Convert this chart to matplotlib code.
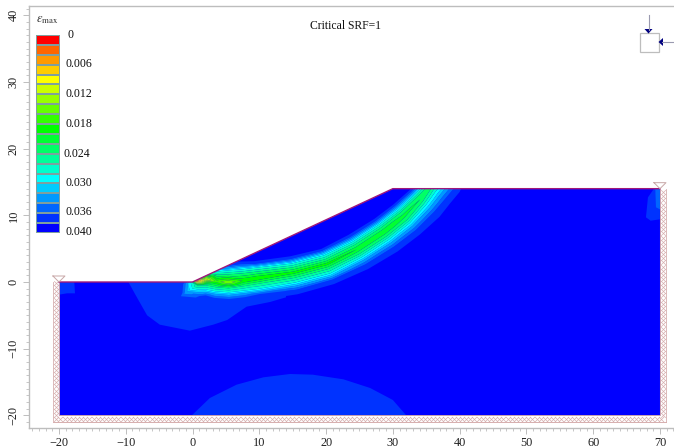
import numpy as np
import matplotlib
matplotlib.use("Agg")
import matplotlib.pyplot as plt
import matplotlib.tri as mtri
from matplotlib.colors import ListedColormap
from matplotlib.lines import Line2D
from matplotlib.patches import Polygon, Rectangle
from matplotlib.ticker import MultipleLocator

plt.rcParams['font.family'] = ['Liberation Serif', 'DejaVu Serif']
plt.rcParams['mathtext.fontset'] = 'stix'

W, H = 674, 446

colors = ['#0000FF', '#0033FF', '#0066FF', '#0099FF', '#00CCFF', '#00FFFF', '#00FFCC',
          '#00FF99', '#00FF66', '#00FF33', '#00FF00', '#33FF00', '#66FF00', '#99FF00',
          '#CCFF00', '#FFFF00', '#FFCC00', '#FF9900', '#FF6600', '#FF0000']
levels = np.linspace(0, 0.04, 21)
legend_ticks = ['0', '0.006', '0.012', '0.018', '0.024', '0.030', '0.036', '0.040']
legend_x = [68, 66, 65, 65, 64, 65, 66, 66]
legend_y = [35, 64, 94, 124, 154, 183, 212, 232]

domain_x = [-20, 70, 70, 30, 0, -20]
domain_y = [-20, -20, 14, 14, 0, 0]

# Strain band: stations along the shear band, peak strain, and the offsets of iso-strain lines
iso_values = [0.016, 0.012, 0.008, 0.004, 0.002]
station_x = [0.6, 2.0, 3.6, 5.4, 7.5, 9.6, 15.1, 20.1, 24.6, 28.6, 31.6, 34.1, 35.5, 37.0]
station_y = [0.15, 0.4, 0.1, -0.05, 0.2, 0.55, 1.4, 2.7, 4.9, 7.5, 9.9, 12.4, 14.2, 16.0]
station_peak = [0.036, 0.029, 0.023, 0.026, 0.022, 0.022, 0.021, 0.021, 0.020, 0.020, 0.019, 0.018, 0.017, 0.017]
offset_up = [[0.5, 0.8, 1.0, 1.4, 1.8], [0.9, 1.3, 1.6, 2.1, 2.5], [1.0, 1.5, 1.9, 2.3, 2.7],
             [1.2, 1.8, 2.1, 2.5, 2.9], [1.1, 1.7, 2.1, 2.5, 2.9], [1.0, 1.6, 1.9, 2.2, 2.6],
             [0.8, 1.4, 1.75, 2.1, 2.5], [0.75, 1.35, 1.75, 2.1, 2.4], [0.75, 1.3, 1.7, 2.1, 2.5],
             [0.75, 1.3, 1.65, 2.05, 2.4], [0.7, 1.2, 1.6, 2.0, 2.3], [0.6, 1.1, 1.4, 1.8, 2.1],
             [0.3, 0.9, 1.2, 1.6, 2.1], [0.3, 0.9, 1.2, 1.6, 2.1]]
offset_low = [[0.7, 1.3, 1.7, 2.3, 3.0], [0.9, 1.5, 1.9, 2.4, 3.2], [0.9, 1.5, 1.9, 2.5, 3.2],
              [0.9, 1.5, 1.9, 2.5, 3.2], [0.85, 1.5, 1.9, 2.5, 3.2], [0.85, 1.6, 2.0, 2.4, 3.3],
              [0.8, 1.5, 2.0, 2.6, 3.3], [0.8, 1.5, 2.0, 2.5, 3.2], [0.8, 1.4, 1.9, 2.6, 3.4],
              [0.8, 1.4, 1.95, 2.7, 3.6], [0.8, 1.4, 2.0, 2.8, 3.7], [0.5, 1.2, 1.9, 2.8, 3.9],
              [0.3, 1.1, 1.9, 2.9, 3.9], [0.3, 1.1, 1.9, 2.9, 3.9]]
# Toe end of the band: extra strain samples
toe_x = [-0.3, -0.7, -1.4, -2.5, -3.2, -1.5, -2.2, -0.8, -3.0]
toe_y = [0.0, -0.2, -0.3, -0.5, -0.5, -1.6, -2.5, -1.4, -3.2]
toe_strain = [0.012, 0.008, 0.004, 0.002, 0.0, 0.004, 0.002, 0.008, 0.0]
far_x = [-30, 80, 80, -30, 25, 45, 10]
far_y = [-30, -30, 30, 30, -12, 22, 12]

# Low strain regions (0.002 - 0.004)
toe_region = [(-9.6, 0), (-8.5, -2), (-6.8, -5), (-4.9, -6.4), (-0.4, -7.3), (3.1, -6.4), (5.2, -5.7),
              (8.1, -3.7), (11.6, -3), (14, -2.3), (14, 0), (0, 0)]
dome_region = [(-0.1, -20), (2.6, -17.4), (6.6, -15.4), (10.6, -14.3), (14.6, -13.8), (18, -13.9),
               (22.6, -14.6), (26.6, -15.9), (30, -17.7), (32, -20)]
left_blob = [(-20, 0), (-17.7, 0), (-17.6, -1.7), (-18.8, -1.7), (-20, -1.9)]
right_blob = [(69.1, 14), (68.2, 12.7), (67.9, 9.7), (68.6, 9.2), (70, 9.4), (70, 14)]
right_core = [(69.3, 14), (70, 14), (70, 10.9), (69.4, 11.2)]

xticks = [-20, -10, 0, 10, 20, 30, 40, 50, 60, 70]
yticks = [-20, -10, 0, 10, 20, 30, 40]

fig = plt.figure(figsize=(W / 100, H / 100), dpi=100)
L, R, T, B = 28.5, 674, 6, 428
ax = fig.add_axes([L / W, 1 - B / H, (R - L) / W, (B - T) / H])
ax.set_xlim(-24.56, 72.1)
ax.set_ylim(-21.9, 41.4)

# Domain
clip = Polygon(list(zip(domain_x, domain_y)), closed=True, fc=colors[0], ec='none', zorder=1)
ax.add_patch(clip)
for poly, c in [(toe_region, colors[1]), (dome_region, colors[1]), (left_blob, colors[1]),
                (right_blob, colors[1]), (right_core, colors[2])]:
    p = Polygon(poly, closed=True, fc=c, ec='none', zorder=2)
    ax.add_patch(p)
    p.set_clip_path(clip)

# Band samples
sx, sy = np.array(station_x), np.array(station_y)
tx, ty = np.gradient(sx), np.gradient(sy)
n = np.hypot(tx, ty)
nx, ny = -ty / n, tx / n
px, py, pz = list(toe_x) + list(far_x), list(toe_y) + list(far_y), list(toe_strain) + [0.0] * len(far_x)
for i in range(len(sx)):
    px.append(sx[i]); py.append(sy[i]); pz.append(station_peak[i])
    for sign, offs in ((1, offset_up[i]), (-1, offset_low[i])):
        for d, v in zip(offs + [offs[-1] + 0.8], iso_values + [0.0]):
            px.append(sx[i] + sign * d * nx[i])
            py.append(sy[i] + sign * d * ny[i])
            pz.append(v)
tri = mtri.Triangulation(px, py)
cs = ax.tricontourf(tri, pz, levels=levels[1:], colors=colors[1:], zorder=3, antialiased=True)
cs.set_clip_path(clip)

# Boundary supports
hatch = '#d6aeae'
ax.scatter(np.arange(-20.4, 70.6, 0.62), np.full(147, -20.5), marker='x', s=13, lw=0.5, c=hatch, zorder=4)
yl = np.arange(-20, 0, 0.62)
ax.scatter(np.full(yl.size, -20.45), yl, marker='x', s=11, lw=0.5, c=hatch, zorder=4)
yr = np.arange(-20, 14, 0.62)
ax.scatter(np.full(yr.size, 70.45), yr, marker='x', s=11, lw=0.5, c=hatch, zorder=4)
ax.plot([-20.9, -20.9], [-20.8, 0], color=hatch, lw=0.6, zorder=4)
ax.plot([70.9, 70.9], [-21, 14], color=hatch, lw=0.6, zorder=4)
ax.plot([-20.9, 70.9], [-21.05, -21.05], color=hatch, lw=0.7, zorder=4)
ax.plot([-20, -20, 70, 70], [0, -20, -20, 14], color='#c8a0b0', lw=0.7, zorder=5)
ax.plot([-20, 0, 30, 70], [0, 0, 14, 14], color='#a0187a', lw=1.0, zorder=5)
# Water table triangles
ax.plot([-20.9, -19.1, -20, -20.9], [0.9, 0.9, 0, 0.9], color='#c8a8a8', lw=0.7, zorder=5)
ax.plot([69.1, 70.9, 70, 69.1], [14.9, 14.9, 14, 14.9], color='#c8a8a8', lw=0.7, zorder=5)

# Axes
gray = '#bdbdbd'
for s in ('left', 'bottom', 'top'):
    ax.spines[s].set_color(gray)
    ax.spines[s].set_linewidth(1.0)
ax.spines['right'].set_visible(False)
ax.set_xticks(xticks)
ax.set_yticks(yticks)
ax.xaxis.set_minor_locator(MultipleLocator(1))
ax.yaxis.set_minor_locator(MultipleLocator(1))
ax.tick_params(which='major', length=4, width=0.7, color=gray, labelsize=8.8, pad=2.5, labelcolor='#202020')
ax.tick_params(which='minor', length=2, width=0.6, color=gray)
for lab in ax.get_yticklabels():
    lab.set_rotation(90)
    lab.set_va('center')

def fx(x):
    return x / W

def fy(y):
    return 1 - y / H

# Legend
lx0, lx1, ly0, ly1 = 36, 60, 35, 233
cax = fig.add_axes([fx(lx0), fy(ly1), (lx1 - lx0) / W, (ly1 - ly0) / H])
cax.pcolormesh([0, 1], np.arange(21)[::-1], np.arange(20)[::-1].reshape(-1, 1)[::1],
               cmap=ListedColormap(colors), vmin=0, vmax=19, edgecolors='#7f9f9f', linewidth=0.2)
cax.set_xlim(0, 1)
cax.set_ylim(0, 20)
cax.axis('off')
for t, x, y in zip(legend_ticks, legend_x, legend_y):
    fig.text(fx(x), fy(y), t, fontsize=8.6, color='#101010', va='center', ha='left')
fig.text(fx(36), fy(20), r'$\varepsilon_{\mathrm{max}}$', fontsize=9, color='#303030', va='center', ha='left')
fig.text(fx(345), fy(26), 'Critical SRF=1', fontsize=8.4, color='#101010', va='center', ha='center')

# Stress icon
navy = '#000080'
fig.add_artist(Rectangle((fx(639.5), fy(51.5)), 19 / W, 18.5 / H, transform=fig.transFigure,
                         fc='white', ec='#bdbdbd', lw=0.9))
fig.add_artist(Line2D([fx(648.5)] * 2, [fy(15), fy(30)], color='#9a9ab0', lw=0.8))
fig.add_artist(Line2D([fx(662), fx(674)], [fy(42)] * 2, color='#9a9ab0', lw=0.8))
fig.add_artist(Polygon([(fx(644.5), fy(29)), (fx(652.5), fy(29)), (fx(648.5), fy(33.5))],
                       closed=True, transform=fig.transFigure, fc=navy, ec='none'))
fig.add_artist(Polygon([(fx(663), fy(38)), (fx(663), fy(46)), (fx(658.5), fy(42))],
                       closed=True, transform=fig.transFigure, fc=navy, ec='none'))

fig.savefig('out.png', dpi=100)
